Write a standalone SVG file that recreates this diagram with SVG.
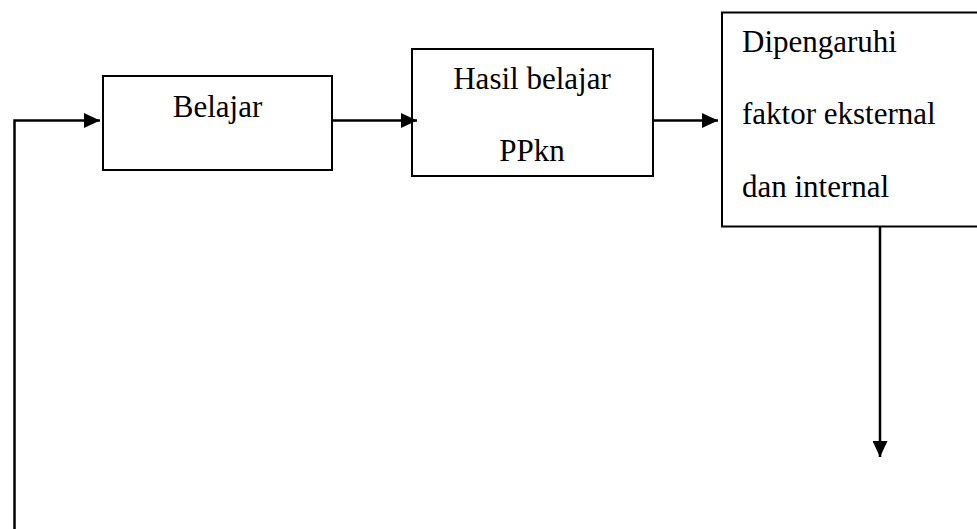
<svg xmlns="http://www.w3.org/2000/svg" width="977" height="529" viewBox="0 0 977 529">
<style>
.box{fill:#fff;stroke:#000;stroke-width:2}
.lbl{font-family:"Liberation Serif","Times New Roman",serif;font-size:31px;fill:#000}
.c{text-anchor:middle}
.conn{fill:none;stroke:#000;stroke-width:2.5}
</style>
<defs>
<marker id="ah" viewBox="0 0 16 15" refX="16" refY="7.5" markerWidth="16" markerHeight="15" markerUnits="userSpaceOnUse" orient="auto">
<path d="M0,0 L16,7.5 L0,15 Z" fill="#000"/>
</marker>
</defs>
<rect width="977" height="529" fill="#fff"/>
<g id="node-belajar">
<rect class="box" x="103" y="76" width="229" height="94"/>
<text class="lbl c" x="217.5" y="117">Belajar</text>
</g>
<g id="node-hasil">
<rect class="box" x="412" y="49" width="241" height="127"/>
<text class="lbl c" x="532" y="89">Hasil belajar</text>
<text class="lbl c" x="532" y="161">PPkn</text>
</g>
<g id="node-faktor">
<rect class="box" x="722" y="12.5" width="270" height="214"/>
<text class="lbl" x="742" y="52">Dipengaruhi</text>
<text class="lbl" x="742" y="124">faktor eksternal</text>
<text class="lbl" x="742" y="197">dan internal</text>
</g>
<g id="connectors">
<polyline class="conn" points="14.5,529 14.5,120.5 100,120.5" marker-end="url(#ah)"/>
<line class="conn" x1="332" y1="120.5" x2="417" y2="120.5" marker-end="url(#ah)"/>
<line class="conn" x1="653" y1="120.5" x2="718" y2="120.5" marker-end="url(#ah)"/>
<line class="conn" x1="880" y1="226.5" x2="880" y2="457" marker-end="url(#ah)"/>
</g>
</svg>
